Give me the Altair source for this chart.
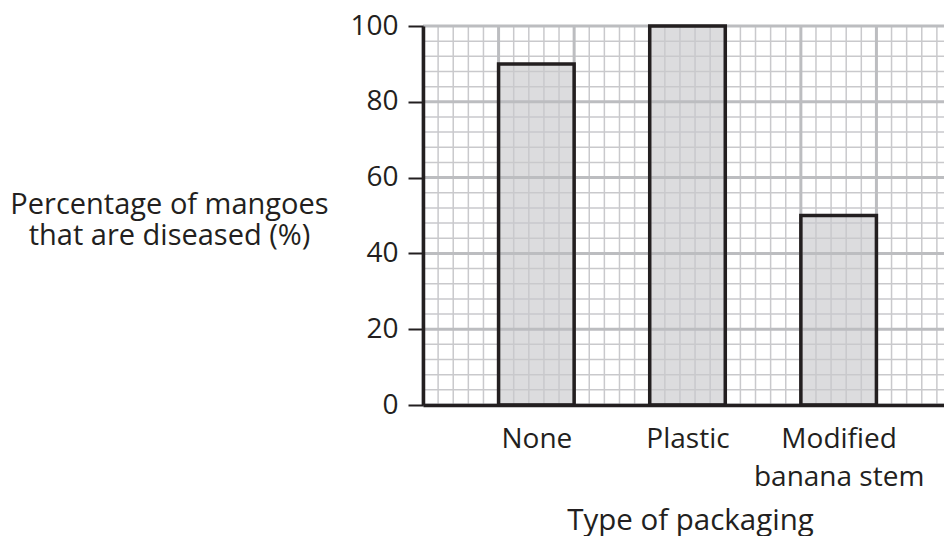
import altair as alt
import numpy as np
import pandas as pd

# ---- data ----
categories = ["None", "Plastic", "Modified banana stem"]
label_lines = [["None"], ["Plastic"], ["Modified", "banana stem"]]
values = [90, 100, 50]

y_title = ["Percentage of mangoes", "that are diseased (%)"]
x_title = "Type of packaging"

y_ticks = [0, 20, 40, 60, 80, 100]

FONT = "Open Sans"
INK = "#231f20"

# bars occupy every other major grid cell on a 0..7 x scale
bars = pd.DataFrame({
    "category": categories,
    "value": values,
    "x0": [2 * i + 1 for i in range(len(categories))],
    "x1": [2 * i + 2 for i in range(len(categories))],
})
centers = [(a + b) / 2 for a, b in zip(bars["x0"], bars["x1"])]

x_minor = pd.DataFrame({"gx": np.round(np.arange(0, 7.001, 0.2), 3)})
x_major = pd.DataFrame({"gx": np.arange(0, 8, 1)})
y_minor = pd.DataFrame({"gy": np.arange(0, 101, 4)})
y_major = pd.DataFrame({"gy": np.arange(0, 101, 20)})

# label expression built from the label lists
expr = "['']"
for c, lines in reversed(list(zip(centers, label_lines))):
    arr = "[" + ",".join("'" + s + "'" for s in lines) + "]"
    expr = f"datum.value == {c} ? {arr} : {expr}"

W, H = 529, 379

x_scale = alt.Scale(domain=[0, 7], nice=False, zero=False)
y_scale = alt.Scale(domain=[0, 100], nice=False)

x_axis = alt.Axis(
    values=centers, labelExpr=expr, ticks=False, tickSize=0, grid=False,
    domainColor=INK, domainWidth=3.5, labelFont=FONT, labelFontSize=28,
    labelColor=INK, labelBaseline="top", labelPadding=20, labelLineHeight=38,
    labelAlign="center", labelFlush=False, labelOverlap=False,
    title=x_title, titleFont=FONT, titleFontSize=29.5, titleFontWeight="normal",
    titleColor=INK, titleX=267, titleY=124, titleBaseline="alphabetic",
    titleAlign="center", titleAnchor="start", zindex=2,
)
y_axis = alt.Axis(
    values=y_ticks, grid=False, tickSize=15, tickWidth=2, tickColor=INK,
    domainColor=INK, domainWidth=3.5, labelFont=FONT, labelFontSize=28,
    labelColor=INK, labelPadding=10, labelFlush=False,
    title=y_title, titleFont=FONT, titleFontSize=29, titleFontWeight="normal",
    titleColor=INK, titleAngle=0, titleAlign="center", titleBaseline="middle",
    titleX=-254, titleY=178, titleLineHeight=31, titleAnchor="start", zindex=2,
)

bar_fill = alt.Chart(bars).mark_bar(color="#dcdcde", strokeWidth=0).encode(
    x=alt.X("x0:Q", scale=x_scale, axis=x_axis),
    x2="x1:Q",
    y=alt.Y("value:Q", scale=y_scale, axis=y_axis),
    y2=alt.datum(0),
)

vminor = alt.Chart(x_minor).mark_rule(color="#c9c9cc", strokeWidth=1.5).encode(
    x=alt.X("gx:Q", scale=x_scale, axis=x_axis)
)
hminor = alt.Chart(y_minor).mark_rule(color="#c9c9cc", strokeWidth=1.5).encode(
    y=alt.Y("gy:Q", scale=y_scale, axis=y_axis)
)
vmajor = alt.Chart(x_major).mark_rule(color="#bcbdc0", strokeWidth=3).encode(
    x=alt.X("gx:Q", scale=x_scale, axis=x_axis)
)
hmajor = alt.Chart(y_major).mark_rule(color="#bcbdc0", strokeWidth=3).encode(
    y=alt.Y("gy:Q", scale=y_scale, axis=y_axis)
)

bar_edge = alt.Chart(bars).mark_bar(
    fill="transparent", stroke=INK, strokeWidth=3.5
).encode(
    x=alt.X("x0:Q", scale=x_scale, axis=x_axis),
    x2="x1:Q",
    y=alt.Y("value:Q", scale=y_scale, axis=y_axis),
    y2=alt.datum(0),
)

chart = alt.layer(bar_fill, vminor, hminor, vmajor, hmajor, bar_edge).properties(
    width=W, height=H,
    autosize=alt.AutoSizeParams(type="none"),
    padding={"left": 415, "top": 18, "right": -8, "bottom": 131},
).configure_view(stroke=None).configure(background="white")

chart.save("out.html", embed_options={"renderer": "svg", "actions": False})
